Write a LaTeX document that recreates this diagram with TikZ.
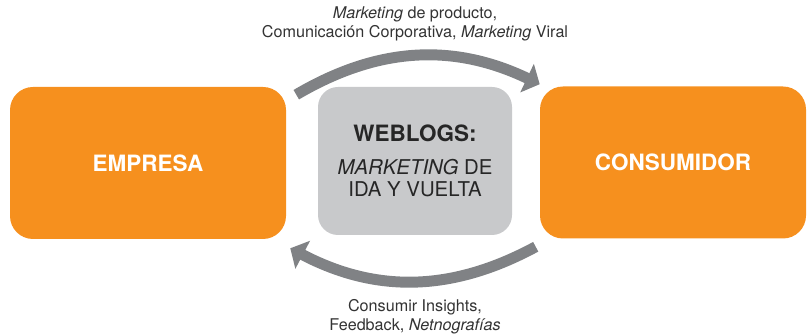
\documentclass[tikz,border=0pt]{standalone}
\usepackage{fontspec}
\setmainfont{TeX Gyre Heros}
\usepackage{tikz}
\usetikzlibrary{arrows.meta}
\definecolor{brandorange}{HTML}{F6901E}
\definecolor{blobgray}{HTML}{C8C9CB}
\definecolor{flowgray}{HTML}{808285}
\definecolor{notegray}{HTML}{333333}
\tikzstyle{party} = [font=\fontsize{16}{18}\selectfont\bfseries, rectangle, rounded corners=0.575cm, minimum width=6.9cm, minimum height=3.8cm, text=white, fill=brandorange]
\tikzstyle{blog} = [font=\fontsize{14.5}{15.6}\selectfont, rectangle, rounded corners=0.5cm, minimum width=4.85cm, minimum height=3.7cm, align=center, text=black!85, fill=blobgray]
\tikzstyle{note} = [font=\fontsize{11.5}{13.3}\selectfont, align=center, text=notegray]
\tikzstyle{flow} = [line width=7.8pt, draw=flowgray, -{Triangle[length=10pt, width=22pt]}]

\begin{document}
\begin{tikzpicture}
  \useasboundingbox (0,0) rectangle (20.2,8.35);
  \node (empresa) [party] at (3.7,4.275) {EMPRESA};
  \node (weblogs) [blog, right of=empresa, xshift=5.675cm, yshift=0.05cm]{{\fontsize{16}{18}\selectfont\bfseries WEBLOGS:}\\[8pt]
    \textit{MARKETING} DE\\
    IDA Y VUELTA};
  \node (consumidor) [party, minimum width=6.65cm, right of=weblogs, xshift=5.45cm, yshift=-0.0375cm]{CONSUMIDOR};
  \node (outbound) [note, above of=weblogs, yshift=2.42cm]{\textit{Marketing} de producto,\\
    Comunicación Corporativa, \textit{Marketing} Viral};
  \node (inbound) [note, below of=weblogs, yshift=-2.9cm]{Consumir Insights,\\
    Feedback, \textit{Netnografías}};
  \draw[flow] ([shift={(0.25,-0.2)}]empresa.north east) to[bend left=28] ([yshift=0.05cm]consumidor.north west);
  \draw[flow] ([shift={(-0.1,-0.2)}]consumidor.south west) to[bend left=28] ([shift={(0.1,-0.225)}]empresa.south east);
\end{tikzpicture}
\end{document}
